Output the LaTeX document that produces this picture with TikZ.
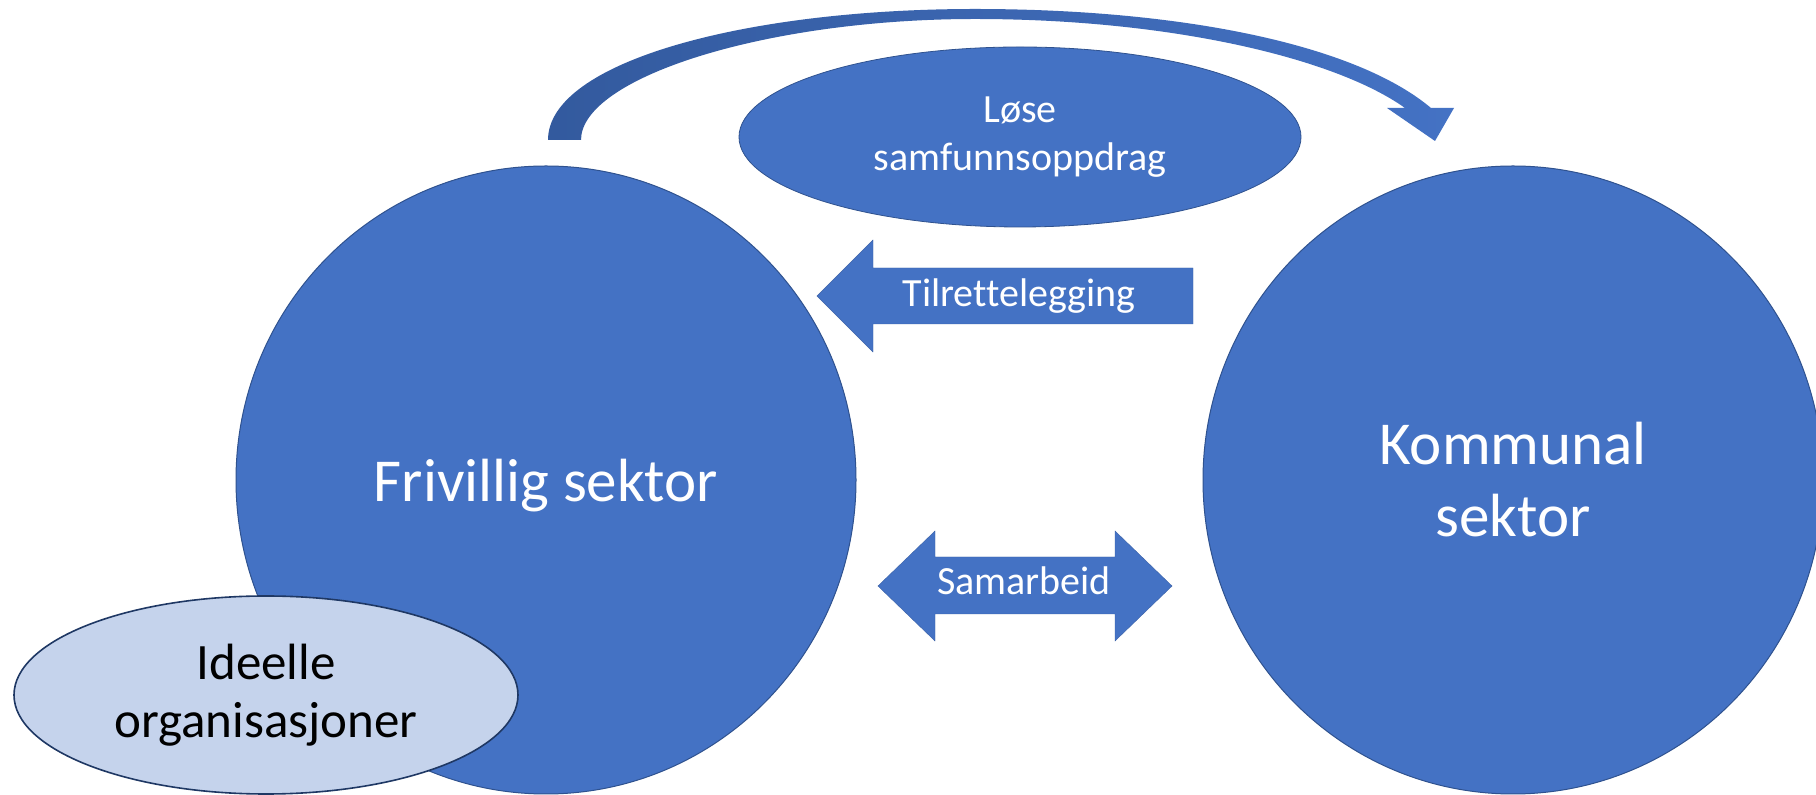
\documentclass[tikz,border=0pt]{standalone}
\usepackage{fontspec}
\setmainfont{Carlito}[Ligatures=NoCommon]
\usetikzlibrary{shapes.geometric}
\definecolor{blu}{HTML}{4472C4}
\definecolor{blubord}{HTML}{2F528F}
\definecolor{bludark}{HTML}{335A9E}
\definecolor{lightblu}{HTML}{C5D3EC}
\definecolor{navy}{HTML}{1F3864}
\tikzset{
  bigcirc/.style={ellipse, fill=blu, draw=blubord, line width=0.5pt, inner sep=0pt,
    minimum width=310pt, minimum height=314pt, text=white, align=center,
    font=\fontsize{30.5}{36}\selectfont},
  topell/.style={ellipse, fill=blu, draw=blubord, line width=0.4pt, inner sep=0pt,
    minimum width=281pt, minimum height=90pt, text=white, align=center,
    font=\fontsize{20}{24}\selectfont},
  ideell/.style={ellipse, fill=lightblu, draw=navy, line width=0.8pt, inner sep=0pt,
    minimum width=252pt, minimum height=99pt, text=black, align=center,
    font=\fontsize{25.5}{29}\selectfont},
  blockarrow/.style={fill=blu, draw=blu!85!black, line width=0.2pt},
  arrowtext/.style={text=white, inner sep=0pt, font=\fontsize{20}{24}\selectfont}
}
\begin{document}
\begin{tikzpicture}[x=0.5pt,y=-0.5pt]
\clip (0,0) rectangle (1816,795);
\fill[white] (0,0) rectangle (1816,795);

% curved arrow on top
\shade[left color=bludark, right color=blu]
  (548,140) -- (581,140)
  .. controls (581,78) and (765,19) .. (975,19)
  .. controls (1170,19) and (1335,58) .. (1405,108)
  -- (1387,108) -- (1435,141) -- (1454,108) -- (1431,108)
  .. controls (1355,44) and (1180,9) .. (975,9)
  .. controls (745,9) and (548,62) .. (548,140) -- cycle;

% top ellipse
\node[topell] (lose) at (1020,137) {Løse\\samfunnsoppdrag};

% two sectors
\node[bigcirc, text depth=0pt] (fri) at (546,480) {Frivillig sektor};
\node[bigcirc] (kom) at (1513,480) {Kommunal\\sektor};

% Tilrettelegging arrow (pointing left)
\fill[blockarrow] (817,296) -- (873,240) -- (873,268) -- (1193,268) -- (1193,324)
  -- (873,324) -- (873,352) -- cycle;
\node[arrowtext, anchor=base] (til) at (1019,307) {Tilrettelegging};

% Samarbeid double arrow
\fill[blockarrow] (878,586) -- (935,531) -- (935,557) -- (1115,557) -- (1115,531)
  -- (1172,586) -- (1115,641) -- (1115,614) -- (935,614) -- (935,641) -- cycle;
\node[arrowtext, anchor=base] (sam) at (1024,595) {Samarbeid};

% Ideelle organisasjoner
\node[ideell] (ide) at (266,695) {Ideelle\\organisasjoner};
\end{tikzpicture}
\end{document}
